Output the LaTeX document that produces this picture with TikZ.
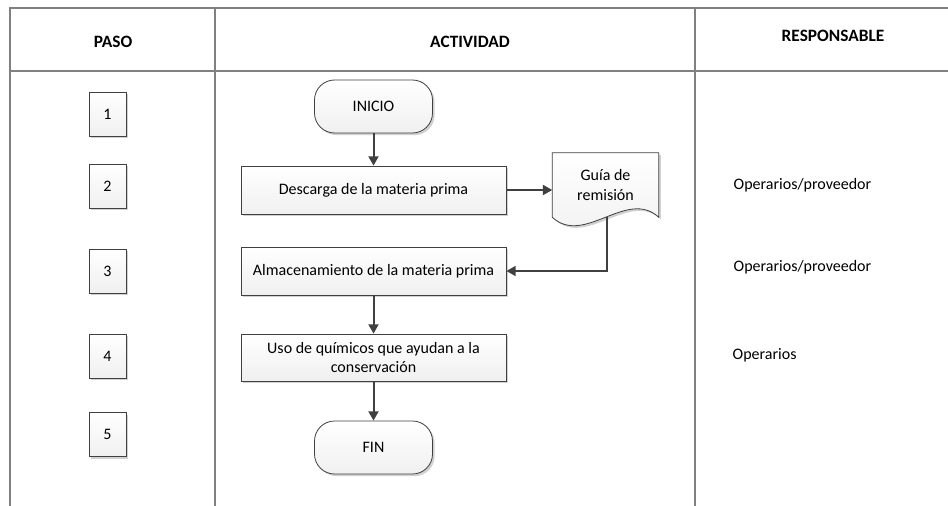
\documentclass[tikz,border=0pt]{standalone}
\usepackage{fontspec}
\setmainfont{Carlito}
\usetikzlibrary{arrows.meta,shadows,backgrounds}
\definecolor{darkline}{HTML}{404040}
\definecolor{tablegray}{HTML}{808080}
\begin{document}
\begin{tikzpicture}
[ x=0.75pt, y=-0.75pt, font=\fontsize{12}{14.5}\selectfont
, tableline/.style={draw=tablegray, line width=0.9pt}
, header/.style={font=\fontsize{13}{15}\selectfont\bfseries}
, boxshadow/.style={drop shadow={shadow xshift=1.6pt, shadow yshift=-1.6pt, fill=black, opacity=0.18}}
, stepbox/.style={rectangle, draw=darkline, line width=0.6pt, top color=white, bottom color=gray!12, boxshadow, minimum width=27.75pt, minimum height=33pt, inner sep=0pt}
, process/.style={rectangle, draw=darkline, line width=0.6pt, top color=white, bottom color=gray!12, boxshadow, minimum width=198.75pt, minimum height=36pt, align=center, inner sep=1pt}
, terminal/.style={rectangle, rounded corners=15pt, draw=darkline, line width=0.6pt, top color=white, bottom color=gray!12, boxshadow, minimum width=88.5pt, minimum height=39.75pt}
, docnode/.style={rectangle, minimum width=79.5pt, minimum height=48pt, align=center, inner sep=0pt}
, docline/.style={draw=darkline, line width=0.6pt, top color=white, bottom color=gray!12, boxshadow}
, resptext/.style={anchor=west}
, flow/.style={draw=darkline, line width=1.5pt, -{Triangle[length=7pt, width=7.5pt]}}
]
\useasboundingbox (0,0) rectangle (948,506);
% table
\draw [tableline] (10,506) -- (10,8) -- (948,8);
\draw [tableline] (10,71) -- (948,71);
\draw [tableline] (215,8) -- (215,506);
\draw [tableline] (695,8) -- (695,506);
\node (hpaso) [header] at (113,42) {PASO};
\node (hact) [header] at (470,42) {ACTIVIDAD};
\node (hresp) [header] at (833,36) {RESPONSABLE};
% steps
\foreach \n/\y in {1/114, 2/186, 3/271, 4/356, 5/434.5}
  \node (paso\n) [stepbox] at (107.5,\y) {\n};
% flow
\node (inicio) [terminal] at (373.5,106.5) {INICIO};
\node (desc) [process] at (373.5,190) {Descarga de la materia prima};
\node (guia) [docnode] at (605.5,185) {Guía de\\remisión};
\begin{scope}[on background layer]
\draw [docline] (guia.south west) -- (guia.north west) -- (guia.north east) -- (guia.south east)
  .. controls +(-24pt,22pt) and +(24pt,-22pt) .. (guia.south west) -- cycle;
\end{scope}
\node (almac) [process] at (373.5,271) {Almacenamiento de la materia prima};
\node (uso) [process, minimum height=35.25pt] at (373.5,357.5) {Uso de químicos que ayudan a la\\conservación};
\node (fin) [terminal] at (373.5,447.5) {FIN};
\draw [flow] (inicio) -- (desc);
\draw [flow] (desc.east) -- (desc.east -| guia.west);
\draw [flow] ([xshift=1pt]guia.south) |- (almac.east);
\draw [flow] (almac) -- (uso);
\draw [flow] (uso) -- (fin);
% responsables
\node (resp2) [resptext] at (729,185) {Operarios/proveedor};
\node (resp3) [resptext] at (729,267) {Operarios/proveedor};
\node (resp4) [resptext] at (728,355) {Operarios};
\end{tikzpicture}
\end{document}
